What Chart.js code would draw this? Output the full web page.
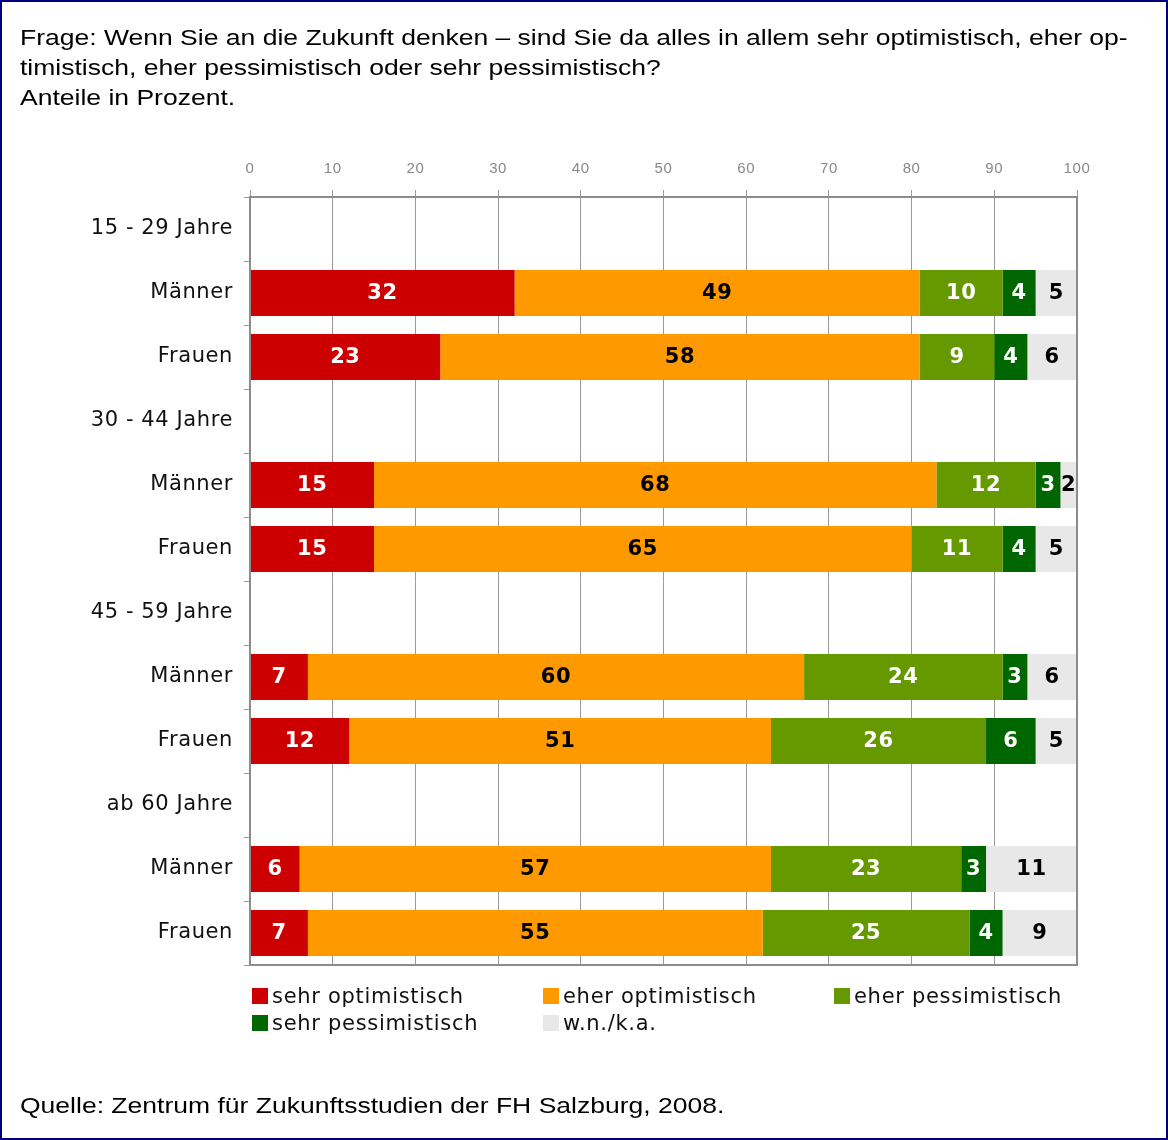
<!DOCTYPE html>
<html>
<head>
<meta charset="utf-8">
<script src="https://cdn.jsdelivr.net/npm/chart.js@4/dist/chart.umd.min.js"></script>
<style>
  body { margin: 0; background: #fff; }
  #frame { position: absolute; left: 0; top: 0; width: 1168px; height: 1140px; box-sizing: border-box; border: 2px solid #000080; }
  #title, #source { position: absolute; left: 20px; font: 22px "Liberation Sans", Arial, sans-serif; color: #000;
                    white-space: nowrap; transform: scaleX(1.205); transform-origin: left top; }
  #title { top: 23px; line-height: 30px; }
  #source { top: 1093px; }
  #wrap { position: absolute; left: 0; top: 0; width: 1168px; height: 1140px; }
  #legend { position: absolute; left: 252px; top: 983px; font: 21px "DejaVu Sans", Verdana, sans-serif; color: #111; letter-spacing: 0.7px; }
  .item { position: absolute; white-space: nowrap; line-height: 27px; }
  .box { display: inline-block; width: 16px; height: 16px; margin-right: 4px; vertical-align: -1px; }
</style>
</head>
<body>
<div id="wrap"><canvas id="chart"></canvas></div>
<div id="title">Frage: Wenn Sie an die Zukunft denken – sind Sie da alles in allem sehr optimistisch, eher op-<br>timistisch, eher pessimistisch oder sehr pessimistisch?<br>Anteile in Prozent.</div>
<div id="legend"></div>
<div id="source">Quelle: Zentrum für Zukunftsstudien der FH Salzburg, 2008.</div>
<div id="frame"></div>
<script>
// Zeilen (Gruppenüberschriften sind leere Zeilen)
var labels = ['15 - 29 Jahre', 'Männer', 'Frauen', '30 - 44 Jahre', 'Männer', 'Frauen',
              '45 - 59 Jahre', 'Männer', 'Frauen', 'ab 60 Jahre', 'Männer', 'Frauen'];

var sehrOpt  = [null, 32, 23, null, 15, 15, null,  7, 12, null,  6,  7];
var eherOpt  = [null, 49, 58, null, 68, 65, null, 60, 51, null, 57, 55];
var eherPess = [null, 10,  9, null, 12, 11, null, 24, 26, null, 23, 25];
var sehrPess = [null,  4,  4, null,  3,  4, null,  3,  6, null,  3,  4];
var wnka     = [null,  5,  6, null,  2,  5, null,  6,  5, null, 11,  9];

var xTicks = [0, 10, 20, 30, 40, 50, 60, 70, 80, 90, 100];

var series = [
  { label: 'sehr optimistisch',  data: sehrOpt,  color: '#CC0000', text: '#fff' },
  { label: 'eher optimistisch',  data: eherOpt,  color: '#FF9900', text: '#000' },
  { label: 'eher pessimistisch', data: eherPess, color: '#669900', text: '#fff' },
  { label: 'sehr pessimistisch', data: sehrPess, color: '#006600', text: '#fff' },
  { label: 'w.n./k.a.',          data: wnka,     color: '#E8E8E8', text: '#000' }
];

// etwas Sperrung wie bei Verdana
var spacing = {
  id: 'spacing',
  beforeDraw: function(chart) { chart.ctx.letterSpacing = '0.6px'; }
};

var valueLabels = {
  id: 'valueLabels',
  afterDatasetsDraw: function(chart) {
    var ctx = chart.ctx;
    ctx.save();
    ctx.font = 'bold 21px "DejaVu Sans", Verdana, sans-serif';
    ctx.textAlign = 'center';
    ctx.textBaseline = 'middle';
    chart.data.datasets.forEach(function(ds, i) {
      ctx.fillStyle = series[i].text;
      chart.getDatasetMeta(i).data.forEach(function(bar, j) {
        var v = ds.data[j];
        if (v == null) return;
        ctx.fillText(v, (bar.x + bar.base) / 2, bar.y + 1);
      });
    });
    ctx.restore();
  }
};

var frameBox = {
  id: 'frameBox',
  afterDraw: function(chart) {
    var a = chart.chartArea, ctx = chart.ctx;
    ctx.save();
    ctx.strokeStyle = '#8c8c8c';
    ctx.lineWidth = 2;
    ctx.strokeRect(a.left, a.top, a.right - a.left, a.bottom - a.top);
    ctx.restore();
  }
};

var ctx = document.getElementById('chart').getContext('2d');
var chart = new Chart(ctx, {
  type: 'bar',
  data: {
    labels: labels,
    datasets: series.map(function(s) {
      return {
        label: s.label,
        data: s.data,
        backgroundColor: s.color,
        borderWidth: 0,
        barPercentage: 0.72,
        categoryPercentage: 1
      };
    })
  },
  options: {
    indexAxis: 'y',
    responsive: true,
    maintainAspectRatio: false,
    animation: false,
    layout: { padding: { left: 0, top: 150, right: 91, bottom: 175 } },
    plugins: {
      legend: { display: false },
      tooltip: { enabled: false }
    },
    scales: {
      x: {
        position: 'top',
        stacked: true,
        min: 0,
        max: 100,
        afterBuildTicks: function(scale) {
          scale.ticks = xTicks.map(function(v) { return { value: v }; });
        },
        afterFit: function(scale) { scale.height = 47; },
        grid: { color: '#999', lineWidth: 1, tickLength: 7, tickColor: '#999' },
        border: { display: true, color: '#8c8c8c', width: 2 },
        ticks: {
          color: '#888',
          font: { family: '"Liberation Sans", Arial, sans-serif', size: 15 },
          padding: 12
        }
      },
      y: {
        stacked: true,
        afterFit: function(scale) { scale.width = 250; },
        grid: { display: true, drawOnChartArea: false, offset: true, tickLength: 6, tickColor: '#999' },
        border: { display: true, color: '#8c8c8c', width: 2 },
        ticks: {
          color: '#111',
          font: { family: '"DejaVu Sans", Verdana, sans-serif', size: 21 },
          padding: 11
        }
      }
    }
  },
  plugins: [spacing, valueLabels, frameBox]
});

// Legende, drei Spalten wie im Original
var legend = document.getElementById('legend');
series.forEach(function(s, i) {
  var d = document.createElement('div');
  d.className = 'item';
  d.style.left = (i % 3) * 291 + 'px';
  d.style.top = Math.floor(i / 3) * 27 + 'px';
  d.innerHTML = '<span class="box" style="background:' + s.color + '"></span>' + s.label;
  legend.appendChild(d);
});
</script>
</body>
</html>
